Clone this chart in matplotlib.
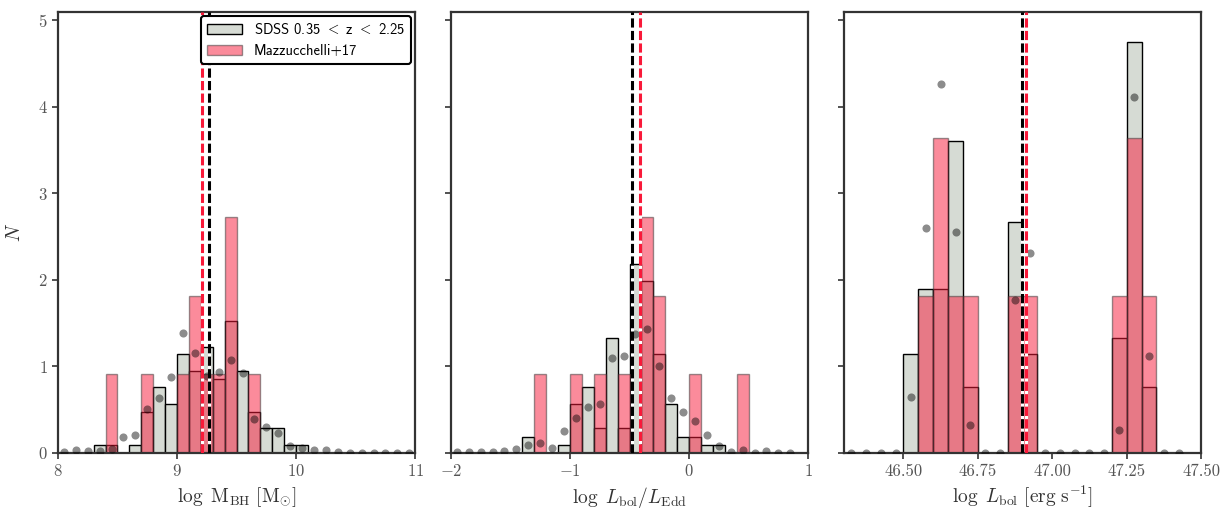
import numpy as np
import matplotlib
matplotlib.use("Agg")
import matplotlib.pyplot as plt

plt.rcParams['font.family'] = 'serif'
plt.rcParams['font.serif'] = ['cmr10']
plt.rcParams['mathtext.fontset'] = 'cm'
plt.rcParams['axes.formatter.use_mathtext'] = True
plt.rcParams['axes.unicode_minus'] = True

# ---------------- data ----------------
# Panel 1: log M_BH
mbh_sdss_start, mbh_width = 8.3, 0.1
mbh_sdss_density = [0.096, 0.096, 0, 0.096, 0.47, 0.76, 0.57, 1.14, 0.95,
                    1.23, 0.86, 1.52, 0.95, 0.47, 0.29, 0.29, 0.096, 0.096]
mbh_mazz_start = 8.4
mbh_mazz_counts = [1, 0, 0, 1, 0, 0, 1, 2, 1, 1, 3, 0, 1]
mbh_dot_x = [8.05, 8.15, 8.25, 8.35, 8.45, 8.55, 8.65, 8.75, 8.85, 8.95,
             9.05, 9.15, 9.25, 9.35, 9.45, 9.55, 9.65, 9.75, 9.85, 9.95,
             10.05, 10.15, 10.25, 10.35, 10.45, 10.55, 10.65, 10.75, 10.85, 10.95]
mbh_dot_y = [0.01, 0.03, 0.02, 0.02, 0.05, 0.18, 0.21, 0.51, 0.64, 0.88,
             1.39, 1.15, 0.89, 0.94, 1.07, 0.92, 0.39, 0.30, 0.23, 0.08,
             0.06, 0.03, 0.03, 0.01, 0.0, 0.0, 0.0, 0.0, 0.0, 0.0]
mbh_median_sdss, mbh_median_mazz = 9.27, 9.21

# Panel 2: log Lbol/LEdd
edd_sdss_start, edd_width = -1.4, 0.1
edd_sdss_density = [0.19, 0, 0, 0.096, 0.57, 0.76, 0.29, 1.33, 0.29, 2.18,
                    1.99, 1.14, 0.57, 0.19, 0.19, 0.096, 0.096]
edd_mazz_start = -1.3
edd_mazz_counts = [1, 0, 0, 1, 0, 1, 0, 1, 0, 3, 2, 0, 0, 1, 0, 0, 0, 1]
edd_dot_x = [-1.95, -1.85, -1.75, -1.65, -1.55, -1.45, -1.35, -1.25, -1.15, -1.05,
             -0.95, -0.85, -0.75, -0.65, -0.55, -0.45, -0.35, -0.25, -0.15, -0.05,
             0.05, 0.15, 0.25, 0.35, 0.45, 0.55, 0.65, 0.75, 0.85]
edd_dot_y = [0.01, 0.01, 0.01, 0.01, 0.02, 0.05, 0.09, 0.12, 0.06, 0.25,
             0.41, 0.53, 0.57, 1.10, 1.12, 1.38, 1.43, 1.00, 0.63, 0.47,
             0.37, 0.21, 0.085, 0.01, 0.03, 0.0, 0.02, 0.0, 0.0]
edd_median_sdss, edd_median_mazz = -0.478, -0.414

# Panel 3: log Lbol
lbol_start, lbol_width = 46.50, 0.05
lbol_sdss_density = [1.14, 1.90, 1.90, 3.61, 0.76, 0, 0, 2.67, 1.14, 0,
                     0, 0, 0, 0, 1.33, 4.75, 0.76]
lbol_mazz_counts = [0, 1, 2, 1, 1, 0, 0, 1, 1, 0, 0, 0, 0, 0, 1, 2, 1]
lbol_dot_x = [46.325, 46.375, 46.425, 46.475, 46.525, 46.575, 46.625, 46.675,
              46.725, 46.775, 46.825, 46.875, 46.925, 46.975, 47.025, 47.075,
              47.125, 47.175, 47.225, 47.275, 47.325, 47.375, 47.425]
lbol_dot_y = [0, 0, 0, 0, 0.65, 2.60, 4.27, 2.55, 0.32, 0, 0, 1.77, 2.31, 0,
              0, 0, 0, 0, 0.27, 4.11, 1.12, 0, 0]
lbol_median_sdss, lbol_median_mazz = 46.900, 46.912

sdss_label = r'SDSS 0.35 $<$ z $<$ 2.25'
mazz_label = 'Mazzucchelli+17'
xlabels = [r'$\log\ \mathrm{M}_{\rm BH}\ [\mathrm{M}_{\odot}]$',
           r'$\log\ L_{\rm bol}/L_{\rm Edd}$',
           r'$\log\ L_{\rm bol}\ [\mathrm{erg\ s}^{-1}]$']
xlims = [(8, 11), (-2, 1), (46.3, 47.5)]
xticks = [[8, 9, 10, 11], [-2, -1, 0, 1], [46.50, 46.75, 47.00, 47.25, 47.50]]

# ---------------- style ----------------
grey_face = '#d6dbd4'
red_col = '#f91939'
spine_col = '#333333'


def edges(start, width, n):
    return start + width * np.arange(n + 1)


panels = [
    (mbh_sdss_start, mbh_width, mbh_sdss_density, mbh_mazz_start, mbh_mazz_counts,
     mbh_dot_x, mbh_dot_y, mbh_median_sdss, mbh_median_mazz),
    (edd_sdss_start, edd_width, edd_sdss_density, edd_mazz_start, edd_mazz_counts,
     edd_dot_x, edd_dot_y, edd_median_sdss, edd_median_mazz),
    (lbol_start, lbol_width, lbol_sdss_density, lbol_start, lbol_mazz_counts,
     lbol_dot_x, lbol_dot_y, lbol_median_sdss, lbol_median_mazz),
]

fig, axes = plt.subplots(1, 3, figsize=(12.25, 5.13), dpi=100, sharey=True)
fig.subplots_adjust(left=0.0473, right=0.9805, top=0.977, bottom=0.117, wspace=0.10)

for i, (ax, p) in enumerate(zip(axes, panels)):
    s_start, w, s_dens, m_start, m_counts, dx, dy, med_s, med_m = p
    s_edges = edges(s_start, w, len(s_dens))
    s_centers = s_edges[:-1] + w / 2
    ax.hist(s_centers, bins=s_edges, weights=s_dens, color=grey_face,
            edgecolor='k', linewidth=1.0, label=sdss_label, zorder=1)
    m_edges = edges(m_start, w, len(m_counts))
    m_centers = m_edges[:-1] + w / 2
    ax.hist(m_centers, bins=m_edges, weights=m_counts, density=True,
            color=red_col, alpha=0.5, edgecolor='#333333', linewidth=1.0,
            label=mazz_label, zorder=2)
    ax.scatter(dx, dy, s=34, color='k', alpha=0.45, linewidths=0, zorder=3)
    ax.axvline(med_s, color='k', lw=2.2, linestyle=(0, (3.0, 1.1)),
               gapcolor='white', zorder=4)
    ax.axvline(med_m, color=red_col, lw=2.2, linestyle=(0, (3.0, 1.1)),
               gapcolor='white', zorder=4)

    ax.set_xlim(*xlims[i])
    ax.set_xticks(xticks[i])
    ax.set_xlabel(xlabels[i], fontsize=14, color='#333333', labelpad=4)
    for sp in ax.spines.values():
        sp.set_color(spine_col)
        sp.set_linewidth(1.6)
    ax.tick_params(direction='out', length=4, width=1.2, colors=spine_col,
                   labelsize=12, labelcolor='#555555')

axes[2].xaxis.set_major_formatter(matplotlib.ticker.FormatStrFormatter('%.2f'))
axes[0].set_ylim(0, 5.1)
axes[0].set_yticks([0, 1, 2, 3, 4, 5])
axes[0].set_ylabel(r'$N$', fontsize=14, color='#333333', labelpad=10)

leg = axes[0].legend(loc='upper right', borderaxespad=0.3, fancybox=True,
                     framealpha=1, edgecolor='k', handlelength=2.4,
                     prop={'family': 'cmss10', 'size': 10.5})
leg.get_frame().set_linewidth(1.5)
leg.set_zorder(10)

fig.savefig('out.png', dpi=100)
